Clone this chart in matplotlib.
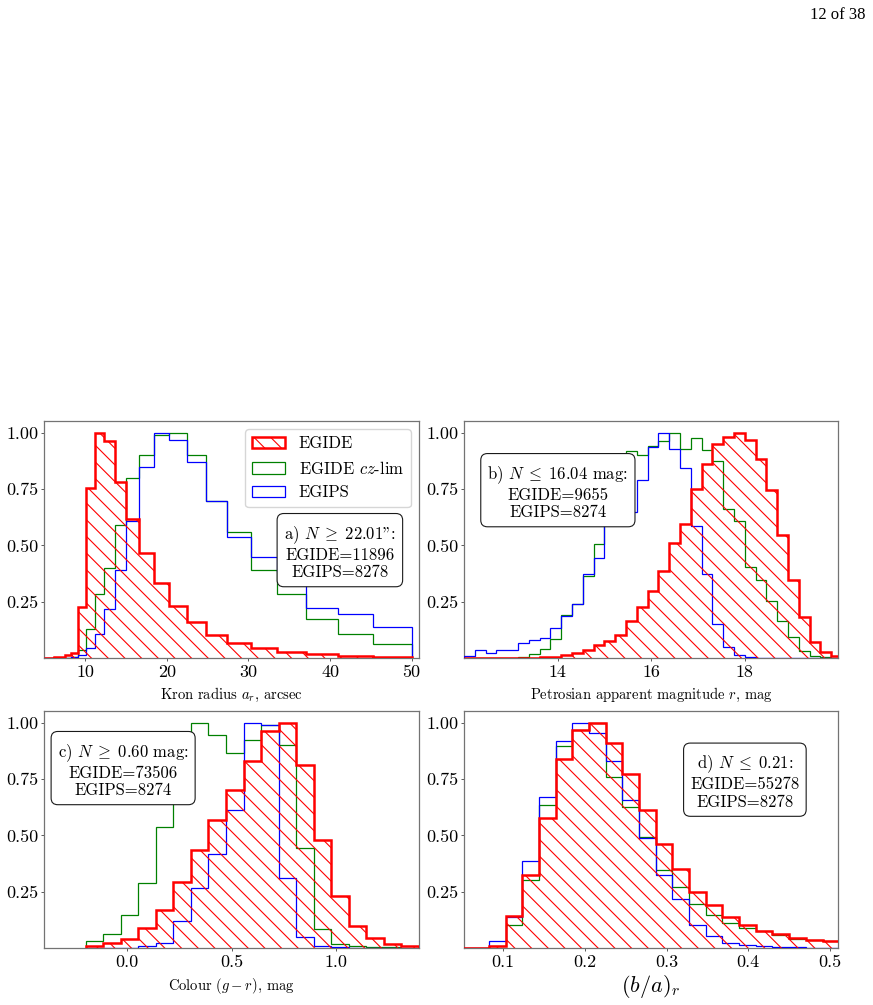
import numpy as np
import matplotlib
matplotlib.use('Agg')
import matplotlib.pyplot as plt
from matplotlib.patches import Patch

plt.rcParams['font.family'] = ['cmr10', 'DejaVu Serif']
plt.rcParams['mathtext.fontset'] = 'cm'
plt.rcParams['axes.formatter.use_mathtext'] = True
plt.rcParams['hatch.linewidth'] = 0.8

# ---------------- data ----------------
# a) Kron radius (log-spaced bins 5..50 arcsec)
a_edges = np.logspace(np.log10(5), np.log10(50), 24)
a_egide = [0.002, 0.002, 0.004, 0.006, 0.012, 0.023, 0.227, 0.757, 1.0, 0.963, 0.782,
           0.618, 0.467, 0.332, 0.233, 0.161, 0.104, 0.065, 0.044, 0.028, 0.018, 0.010, 0.004]
a_czlim = [0, 0, 0, 0, 0, 0.005, 0.035, 0.129, 0.286, 0.401, 0.593,
           0.80, 0.904, 0.99, 1.0, 0.90, 0.696, 0.56, 0.391, 0.286, 0.173, 0.108, 0.064]
a_egips = [0, 0, 0, 0, 0, 0.003, 0.012, 0.044, 0.108, 0.218, 0.391,
           0.61, 0.847, 1.0, 0.97, 0.87, 0.696, 0.536, 0.447, 0.38, 0.222, 0.197, 0.139]

# b) Petrosian magnitude r
b_edges = 12.0 + 0.231 * np.arange(36)
b_egide = [0, 0, 0, 0, 0, 0, 0.001, 0.003, 0.004, 0.012, 0.022, 0.037, 0.059, 0.077,
           0.104, 0.163, 0.225, 0.297, 0.386, 0.51, 0.595, 0.753, 0.863, 0.952, 0.983,
           1.0, 0.97, 0.885, 0.748, 0.548, 0.346, 0.183, 0.07, 0.026, 0.008]
b_czlim = [0, 0, 0, 0, 0.002, 0.005, 0.018, 0.04, 0.085, 0.19, 0.24, 0.366, 0.507, 0.59,
           0.78, 0.92, 0.90, 0.944, 0.966, 1.0, 0.929, 0.978, 0.924, 0.874, 0.662,
           0.607, 0.403, 0.347, 0.255, 0.166, 0.095, 0.033, 0.01, 0.005, 0.002]
b_egips = [0.007, 0.034, 0.022, 0.036, 0.037, 0.065, 0.081, 0.089, 0.133, 0.185, 0.24,
           0.375, 0.445, 0.60, 0.64, 0.647, 0.79, 0.936, 1.0, 0.93, 0.844, 0.588,
           0.373, 0.151, 0.05, 0.013, 0.004, 0.001, 0, 0, 0, 0, 0, 0, 0]

# c) Colour g-r
c_edges = np.linspace(-0.2, 1.4, 20)
c_egide = [0.007, 0.02, 0.041, 0.089, 0.17, 0.295, 0.436, 0.569, 0.702, 0.83,
           0.963, 1.0, 0.815, 0.48, 0.229, 0.099, 0.043, 0.018, 0.007]
c_czlim = [0.032, 0.062, 0.145, 0.288, 0.539, 0.78, 1.0, 0.945, 0.867, 0.926,
           0.993, 0.90, 0.443, 0.084, 0.018, 0.01, 0.004, 0.003, 0.001]
c_egips = [0, 0, 0.001, 0.007, 0.022, 0.118, 0.266, 0.418, 0.613, 1.0,
           0.993, 0.31, 0.047, 0.01, 0.003, 0.002, 0.001, 0.001, 0]

# d) axis ratio (b/a)_r
d_edges = np.linspace(0.0416, 0.5115, 24)
d_egide = [0, 0.001, 0.007, 0.14, 0.325, 0.579, 0.838, 0.97, 1.0, 0.911, 0.774, 0.611,
           0.464, 0.353, 0.251, 0.192, 0.139, 0.103, 0.077, 0.062, 0.043, 0.035, 0.032]
d_czlim = [0, 0, 0.01, 0.103, 0.301, 0.635, 0.897, 0.97, 1.0, 0.759, 0.626, 0.493,
           0.346, 0.272, 0.197, 0.148, 0.11, 0.089, 0.074, 0.059, 0.041, 0.037, 0.032]
d_egips = [0, 0.001, 0.032, 0.136, 0.387, 0.67, 0.919, 1.0, 0.956, 0.833, 0.656, 0.49,
           0.326, 0.217, 0.102, 0.052, 0.022, 0.013, 0.007, 0.004, 0.003, 0.002, 0.002]

labels = ['EGIDE', r'EGIDE $cz$-lim', 'EGIPS']
box_texts = [
    'a) $N\\;\\geq\\; 22.01$"' + ':\nEGIDE=11896\nEGIPS=8278',
    'b) $N\\;\\leq\\; 16.04$ mag:\nEGIDE=9655\nEGIPS=8274',
    'c) $N\\;\\geq\\; 0.60$ mag:\nEGIDE=73506\nEGIPS=8274',
    'd) $N\\;\\leq\\; 0.21$:\nEGIDE=55278\nEGIPS=8278',
]
xlabels = [r'Kron radius $a_r$, arcsec', r'Petrosian apparent magnitude $r$, mag',
           r'Colour $(g-r)$, mag', r'$(b/a)_r$']
xticks = [[10, 20, 30, 40, 50], [14, 16, 18], [0.0, 0.5, 1.0], [0.1, 0.2, 0.3, 0.4, 0.5]]
xticklabels = [['10', '20', '30', '40', '50'], ['14', '16', '18'],
               ['0.0', '0.5', '1.0'], ['0.1', '0.2', '0.3', '0.4', '0.5']]
yticks = [0.25, 0.5, 0.75, 1.0]
yticklabels = ['0.25', '0.50', '0.75', '1.00']

# ---------------- figure ----------------
W, H = 873, 1005
fig = plt.figure(figsize=(W / 100, H / 100), dpi=100)

def frac(x0, y0, x1, y1):
    return [x0 / W, 1 - y1 / H, (x1 - x0) / W, (y1 - y0) / H]

rects = [frac(44, 421, 419, 658), frac(464, 421, 838, 658),
         frac(44, 711, 419, 948), frac(464, 711, 838, 948)]
xlims = [(4.94, 50.9), (12.0, 20.0), (-0.4, 1.4), (0.052, 0.51)]
box_pos = [(0.789, 0.447), (0.251, 0.70), (0.211, 0.751), (0.751, 0.702)]
data = [(a_edges, a_egide, a_czlim, a_egips), (b_edges, b_egide, b_czlim, b_egips),
        (c_edges, c_egide, c_czlim, c_egips), (d_edges, d_egide, d_czlim, d_egips)]

RED, GREEN, BLUE = '#ff0000', '#008000', '#0000ff'
HATCH = '\\\\'

for i in range(4):
    ax = fig.add_axes(rects[i])
    edges, red, green, blue = data[i]
    ax.stairs(green, edges, color=GREEN, lw=0.9, zorder=2)
    ax.stairs(blue, edges, color=BLUE, lw=0.9, zorder=3)
    ax.stairs(red, edges, fill=False, hatch=HATCH, edgecolor=RED, lw=1.8, zorder=4)
    ax.set_xlim(*xlims[i])
    ax.set_ylim(0, 1.053)
    ax.set_xticks(xticks[i])
    ax.set_xticklabels(xticklabels[i])
    ax.set_yticks(yticks)
    ax.set_yticklabels(yticklabels)
    ax.tick_params(axis='both', labelsize=13, length=2.5, width=0.7, color='0.35')
    ax.tick_params(axis='y', pad=1.5)
    ax.tick_params(axis='x', pad=2.5)
    for sp in ax.spines.values():
        sp.set_color('0.45')
        sp.set_linewidth(0.9)
    if i == 3:
        ax.set_xlabel(xlabels[i], fontsize=16, labelpad=2)
    else:
        ax.set_xlabel(xlabels[i], fontsize=10.5, labelpad=4)
    ax.text(box_pos[i][0], box_pos[i][1], box_texts[i], transform=ax.transAxes,
            ha='center', va='center', ma='center', fontsize=12, linespacing=1.15,
            zorder=6,
            bbox=dict(boxstyle='round,pad=0.4', facecolor='white',
                      edgecolor='0.1', lw=0.8))
    if i == 0:
        handles = [Patch(facecolor='none', edgecolor=RED, hatch=HATCH, lw=1.8, label=labels[0]),
                   Patch(facecolor='none', edgecolor=GREEN, lw=0.9, label=labels[1]),
                   Patch(facecolor='none', edgecolor=BLUE, lw=0.9, label=labels[2])]
        leg = ax.legend(handles=handles, loc='upper right', fontsize=12,
                        frameon=True, fancybox=True, edgecolor='0.8')
        leg.set_zorder(7)

fig.text(866 / W, 1 - 15 / H, '12 of 38', ha='right', va='center',
         fontsize=12, family='Liberation Serif')

fig.savefig('out.png', dpi=100)
